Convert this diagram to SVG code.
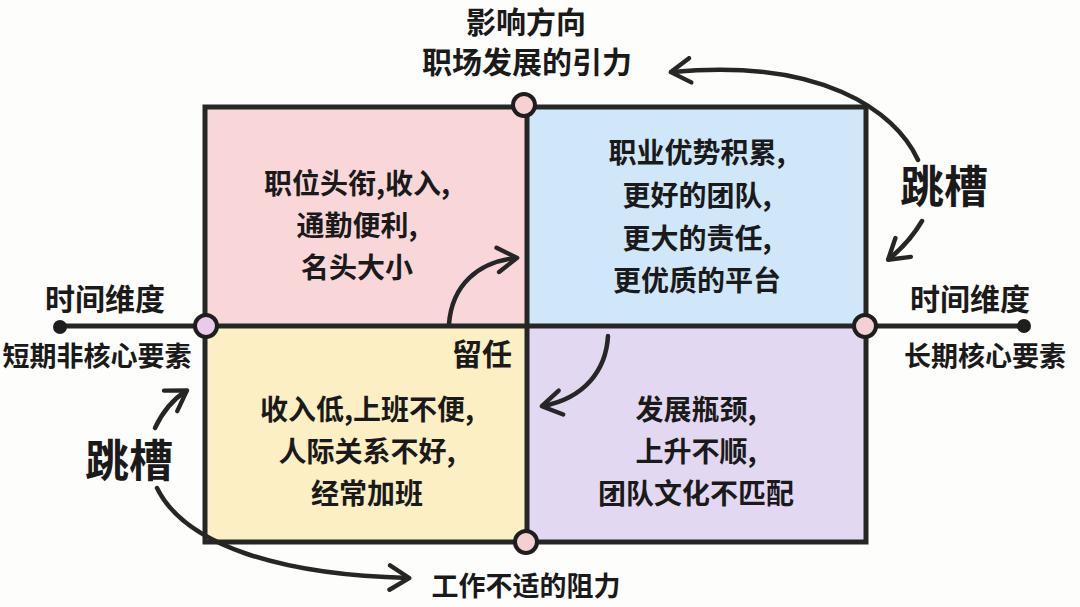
<svg xmlns="http://www.w3.org/2000/svg" width="1080" height="607" viewBox="0 0 1080 607">
<defs>
<style>
text{font-family:"Noto Sans CJK SC","Noto Sans",sans-serif;font-weight:700;fill:#1a1a1a;text-anchor:middle}
.t{font-size:28px}
.h{font-size:30px}
.s{font-size:27px}
.big{font-size:44px}
.ln{stroke:#262626;stroke-width:5;fill:none;stroke-linecap:round}
.arr{stroke:#262626;stroke-width:4.5;fill:none;stroke-linecap:round}
.dot{stroke:#1e1e1e;stroke-width:4}
</style>
<marker id="ah" viewBox="0 0 12 12" refX="9.5" refY="6" markerWidth="6.5" markerHeight="6.5" orient="auto" markerUnits="strokeWidth">
<path d="M2 1 L10 6 L2 11" fill="none" stroke="#262626" stroke-width="1.8" stroke-linecap="round" stroke-linejoin="round"/>
</marker>
</defs>
<rect width="1080" height="607" fill="#fdfdfb"/>
<g id="q-tl"><rect x="205" y="107" width="322" height="219" fill="#f9d7d9"/>
<text class="t" x="357" y="194">职位头衔,收入,</text><text class="t" x="357" y="236">通勤便利,</text><text class="t" x="357" y="278">名头大小</text></g>
<g id="q-tr"><rect x="527" y="107" width="339" height="219" fill="#cfe7f8"/>
<text class="t" x="697" y="163">职业优势积累,</text><text class="t" x="697" y="206">更好的团队,</text><text class="t" x="697" y="249">更大的责任,</text><text class="t" x="697" y="291">更优质的平台</text></g>
<g id="q-bl"><rect x="205" y="326" width="322" height="216" fill="#fcefc4"/>
<text class="t" x="367" y="420">收入低,上班不便,</text><text class="t" x="367" y="462">人际关系不好,</text><text class="t" x="367" y="504">经常加班</text></g>
<g id="q-br"><rect x="527" y="326" width="339" height="216" fill="#e3d8f1"/>
<text class="t" x="696" y="420">发展瓶颈,</text><text class="t" x="696" y="462">上升不顺,</text><text class="t" x="696" y="504">团队文化不匹配</text></g>
<g id="frame">
<rect x="205" y="107" width="661" height="435" class="ln"/>
<line x1="527" y1="107" x2="527" y2="542" class="ln"/>
<line x1="60" y1="326" x2="1024" y2="326" class="ln"/>
</g>
<g id="connectors">
<path d="M918 160 C895 110 820 58 672 72" class="arr" marker-end="url(#ah)"/>
<path d="M922 221 C912 238 900 250 889 259" class="arr" marker-end="url(#ah)"/>
<path d="M449 324 C452 285 478 262 516 258" class="arr" marker-end="url(#ah)"/>
<path d="M608 336 C606 370 585 398 543 406" class="arr" marker-end="url(#ah)"/>
<path d="M155 428 C162 413 172 400 186 391" class="arr" marker-end="url(#ah)"/>
<path d="M157 488 C185 545 280 575 408 578" class="arr" marker-end="url(#ah)"/>
</g>
<g id="dots">
<circle cx="524" cy="105" r="11" fill="#f7d0d1" class="dot"/>
<circle cx="206" cy="326" r="11" fill="#e8cbe8" class="dot"/>
<circle cx="865" cy="326" r="11" fill="#f2d0d6" class="dot"/>
<circle cx="526" cy="542" r="11" fill="#f5d0d3" class="dot"/>
<circle cx="60" cy="327" r="7" fill="#1e1e1e"/>
<circle cx="1024" cy="326" r="7" fill="#1e1e1e"/>
</g>
<g id="labels">
<text class="h" x="526" y="33">影响方向</text>
<text class="h" x="527" y="73">职场发展的引力</text>
<text class="big" x="944" y="203">跳槽</text>
<text class="big" x="129" y="477">跳槽</text>
<text class="h" x="105" y="310">时间维度</text>
<text class="s" x="97" y="366">短期非核心要素</text>
<text class="h" x="970" y="310">时间维度</text>
<text class="s" x="985" y="366">长期核心要素</text>
<text class="h" x="482" y="365">留任</text>
<text class="s" x="526" y="596">工作不适的阻力</text>
</g>
</svg>
